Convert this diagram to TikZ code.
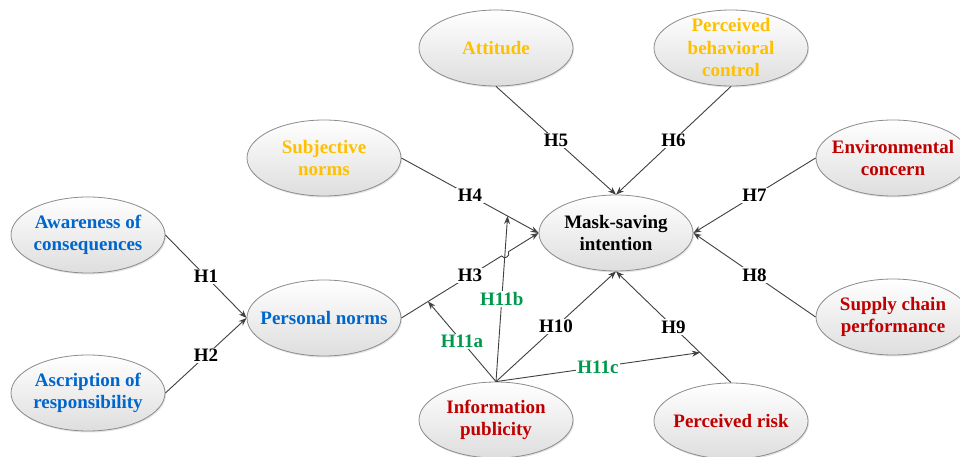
\documentclass[tikz,border=0pt]{standalone}
\usepackage{fontspec}
\setmainfont{Liberation Serif}
\usetikzlibrary{shapes.geometric,arrows.meta,calc,intersections,shadows}
\definecolor{cblue}{HTML}{0066CC}
\definecolor{cyel}{HTML}{FFC000}
\definecolor{cred}{HTML}{C00000}
\definecolor{cgreen}{HTML}{00994C}
\definecolor{cline}{HTML}{404040}
\definecolor{cedge}{HTML}{8C8C8C}
\tikzset{
  var/.style={ellipse, draw=cedge, line width=0.8pt, top color=white, bottom color=black!13,
    minimum width=154pt, minimum height=76pt, inner sep=0pt,
    drop shadow={shadow xshift=1pt, shadow yshift=-1.5pt, opacity=0.2}},
  vtxt/.style={align=center, inner sep=0pt, font=\fontsize{19}{22.5}\selectfont\bfseries},
  arr/.style={draw=cline, line width=0.9pt, -{Stealth[length=8pt,width=6pt]}},
  lbl/.style={fill=white, inner sep=1.5pt, font=\fontsize{19}{20}\selectfont\bfseries, text=black},
  glbl/.style={lbl, text=cgreen}
}
\begin{document}
\begin{tikzpicture}[x=1pt,y=-1pt]
\clip (0,0) rectangle (960,457);
\fill[white] (0,0) rectangle (960,457);
% variables
\node[var] (aw) at (88,235) {};
\node[vtxt, text=cblue] (awt) at (aw) {Awareness of\\consequences};
\node[var] (as) at (88,393) {};
\node[vtxt, text=cblue] (ast) at (as) {Ascription of\\responsibility};
\node[var] (pn) at (324,318) {};
\node[vtxt, text=cblue] (pnt) at (pn) {Personal norms};
\node[var] (sn) at (324,158) {};
\node[vtxt, text=cyel] (snt) at (sn) {Subjective\\norms};
\node[var] (att) at (496,48) {};
\node[vtxt, text=cyel] (attt) at (att) {Attitude};
\node[var] (pbc) at (731,48) {};
\node[vtxt, text=cyel] (pbct) at (pbc) {Perceived\\behavioral\\control};
\node[var] (ms) at (616,233) {};
\node[vtxt, text=black] (mst) at (ms) {Mask-saving\\intention};
\node[var] (env) at (893,158) {};
\node[vtxt, text=cred] (envt) at (env) {Environmental\\concern};
\node[var] (sc) at (893,317) {};
\node[vtxt, text=cred] (sct) at (sc) {Supply chain\\performance};
\node[var] (ip) at (496,420) {};
\node[vtxt, text=cred] (ipt) at (ip) {Information\\publicity};
\node[var] (pr) at (731,421) {};
\node[vtxt, text=cred] (prt) at (pr) {Perceived risk};
% main paths
\draw[arr] (aw.east) -- node[lbl]{H1} (pn.west);
\draw[arr] (as.east) -- node[lbl]{H2} (pn.west);
\draw[arr, name path=h3] (pn.east) -- node[lbl]{H3} (ms.west);
\draw[arr] (sn.east) -- node[lbl]{H4} (ms.west);
\draw[arr] (att.south) -- node[lbl]{H5} (ms.north);
\draw[arr] (pbc.south) -- node[lbl]{H6} (ms.north);
\draw[arr] (env.west) -- node[lbl]{H7} (ms.east);
\draw[arr] (sc.west) -- node[lbl]{H8} (ms.east);
\draw[arr] (pr.north) -- node[lbl]{H9} (ms.south);
\draw[arr] (ip.north) -- node[lbl]{H10} (ms.south);
% moderation targets
\coordinate (t11a) at ($(pn.east)!0.194!(ms.west)$);
\coordinate (t11b) at ($(sn.east)!0.774!(ms.west)$);
\coordinate (t11c) at ($(pr.north)!0.27!(ms.south)$);
\path[name path=h11b] (ip.north) -- (t11b);
\path[name intersections={of=h3 and h11b, by=xb}];
\fill[white] (xb) circle (4pt);
\draw[cline, line width=0.9pt] ($(xb)!4pt!(pn.east)$) to[bend right=90, looseness=1.6] ($(xb)!4pt!(ms.west)$);
\draw[arr] (ip.north) -- node[glbl]{H11a} (t11a);
\draw[arr] (ip.north) -- node[glbl]{H11b} (t11b);
\draw[arr] (ip.north) -- node[glbl]{H11c} (t11c);
\end{tikzpicture}
\end{document}
